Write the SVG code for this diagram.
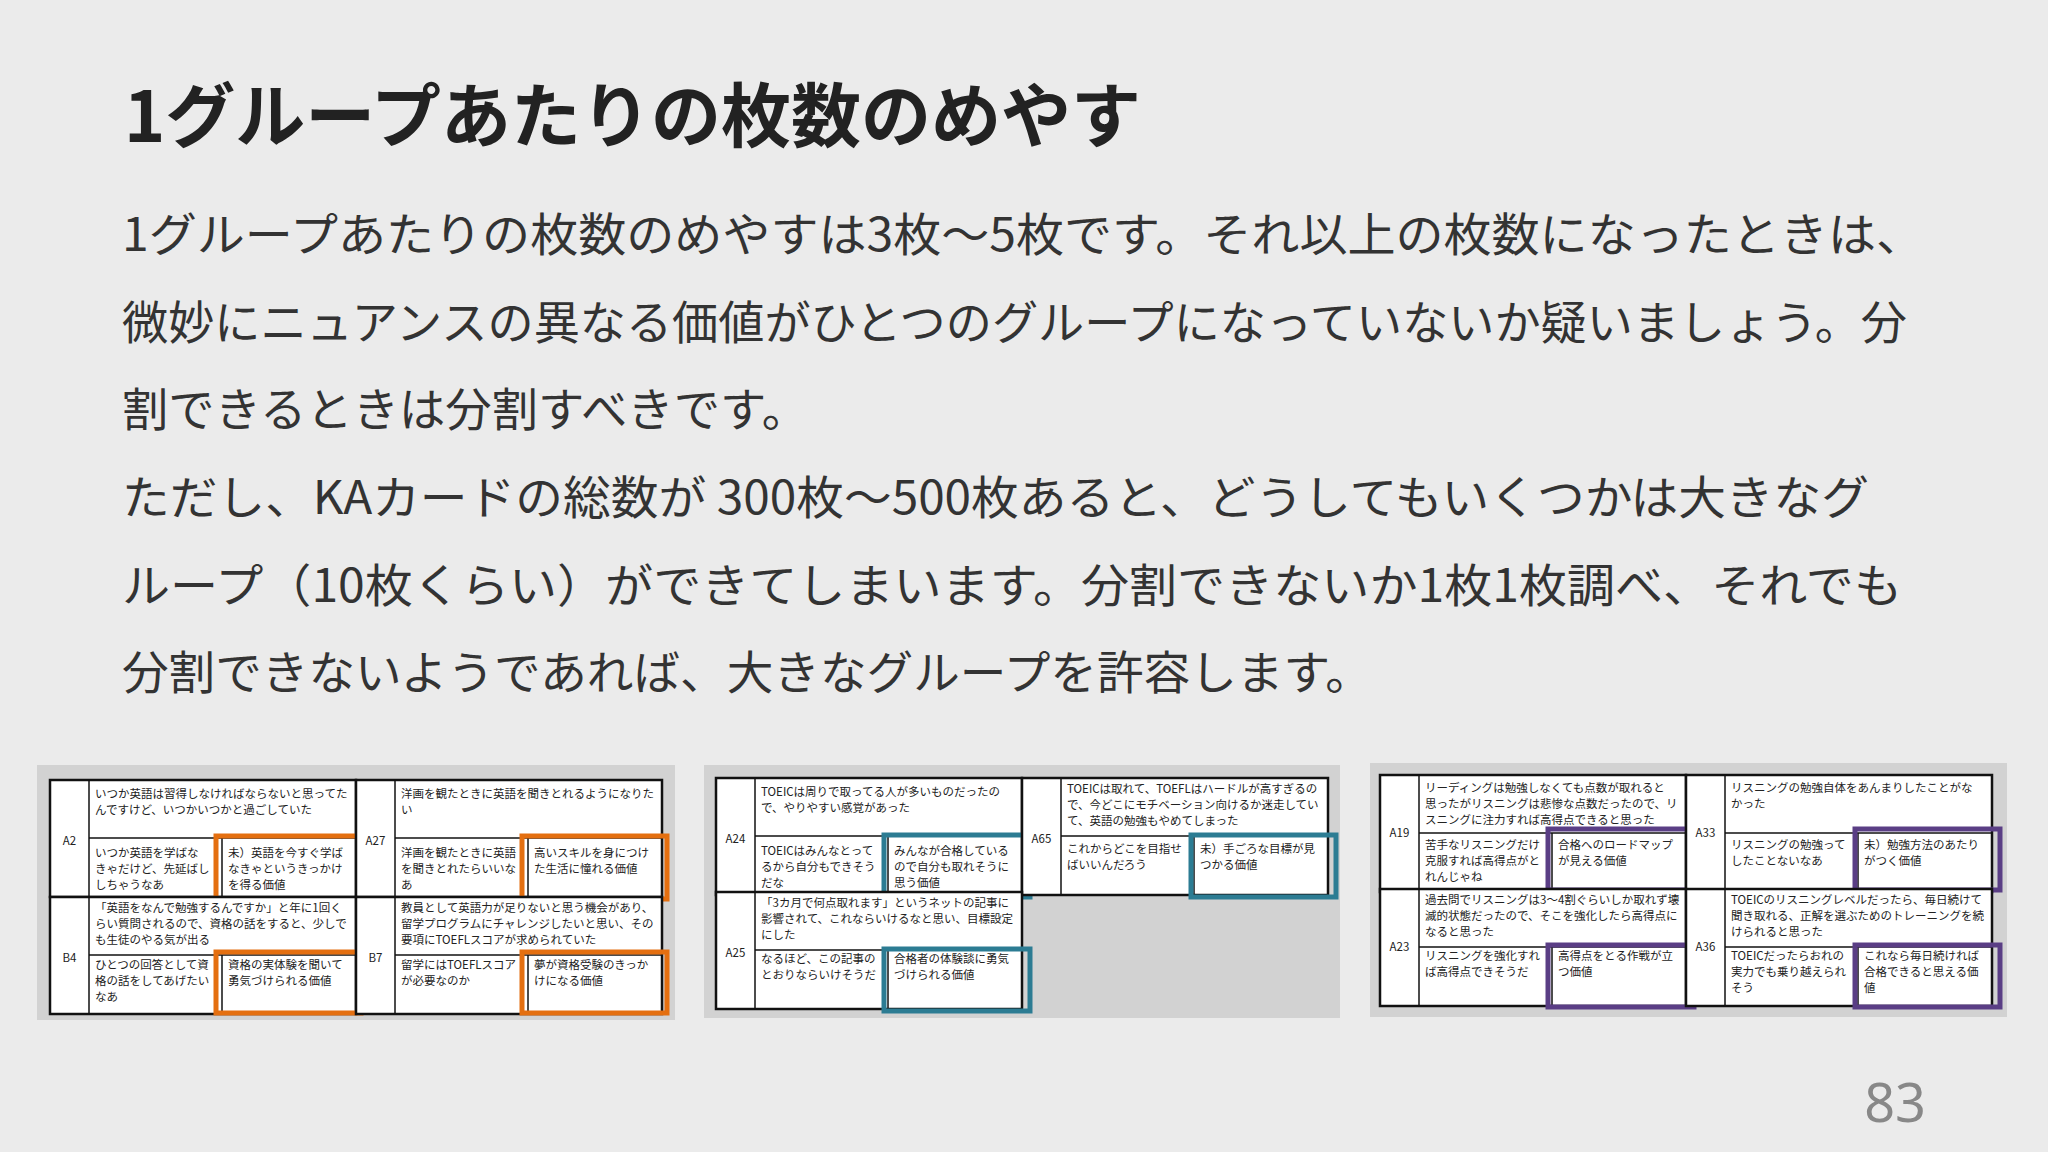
<svg xmlns="http://www.w3.org/2000/svg" width="2048" height="1152" viewBox="0 0 2048 1152">
<style>
text{font-family:"Noto Sans CJK JP","Noto Sans",sans-serif;fill:#333}
.t{font-size:70px;font-weight:bold;fill:#222}
.b{font-size:46px}
.s{font-size:11.5px;fill:#222}
.pn{font-size:54px;fill:#888;font-family:"Noto Sans",sans-serif}
.panel{fill:#d2d2d2}
.cell{fill:#fff;stroke:#111;stroke-width:2.5}
.ln{stroke:#111;stroke-width:1.5;fill:none}
.o{fill:none;stroke:#e46f10;stroke-width:5}
.g{fill:none;stroke:#2c7c93;stroke-width:5}
.p{fill:none;stroke:#5a3e85;stroke-width:5}
</style>
<defs>
<g id="frame">
<rect class="cell" x="0" y="0" width="306" height="117"/>
<line class="ln" x1="39" y1="0" x2="39" y2="117"/>
<line class="ln" x1="39" y1="58" x2="306" y2="58"/>
<line class="ln" x1="172" y1="58" x2="172" y2="117"/>
</g>
</defs>
<rect width="2048" height="1152" fill="#ebebeb"/>
<text class="t" x="124" y="142">1グループあたりの枚数のめやす</text>
<g id="body">
<text class="b" x="122" y="251" textLength="1802" lengthAdjust="spacingAndGlyphs">1グループあたりの枚数のめやすは3枚～5枚です。それ以上の枚数になったときは、</text>
<text class="b" x="122" y="339" textLength="1785" lengthAdjust="spacingAndGlyphs">微妙にニュアンスの異なる価値がひとつのグループになっていないか疑いましょう。分</text>
<text class="b" x="122" y="426" textLength="686" lengthAdjust="spacingAndGlyphs">割できるときは分割すべきです。</text>
<text class="b" x="122" y="514" textLength="1747" lengthAdjust="spacingAndGlyphs">ただし、KAカードの総数が 300枚～500枚あると、どうしてもいくつかは大きなグ</text>
<text class="b" x="122" y="602" textLength="1780" lengthAdjust="spacingAndGlyphs">ループ（10枚くらい）ができてしまいます。分割できないか1枚1枚調べ、それでも</text>
<text class="b" x="122" y="689" textLength="1250" lengthAdjust="spacingAndGlyphs">分割できないようであれば、大きなグループを許容します。</text>
</g>
<rect class="panel" x="37" y="765" width="638" height="255"/>
<rect class="panel" x="704" y="765" width="636" height="253"/>
<rect class="panel" x="1370" y="763" width="637" height="254"/>

<g id="A2" transform="translate(50,780)">
<use href="#frame"/>
<text class="s" x="19.5" y="65" text-anchor="middle">A2</text>
<text class="s" x="45" y="18">いつか英語は習得しなければならないと思ってた</text>
<text class="s" x="45" y="34">んですけど、いつかいつかと過ごしていた</text>
<text class="s" x="45" y="77">いつか英語を学ばな</text>
<text class="s" x="45" y="93">きゃだけど、先延ばし</text>
<text class="s" x="45" y="109">しちゃうなあ</text>
<text class="s" x="178" y="77">未）英語を今すぐ学ば</text>
<text class="s" x="178" y="93">なきゃというきっかけ</text>
<text class="s" x="178" y="109">を得る価値</text>
<rect class="o" x="166" y="56" width="145" height="63"/>
</g>
<g id="A27" transform="translate(356,780)">
<use href="#frame"/>
<text class="s" x="19.5" y="65" text-anchor="middle">A27</text>
<text class="s" x="45" y="18">洋画を観たときに英語を聞きとれるようになりた</text>
<text class="s" x="45" y="34">い</text>
<text class="s" x="45" y="77">洋画を観たときに英語</text>
<text class="s" x="45" y="93">を聞きとれたらいいな</text>
<text class="s" x="45" y="109">あ</text>
<text class="s" x="178" y="77">高いスキルを身につけ</text>
<text class="s" x="178" y="93">た生活に憧れる価値</text>
<rect class="o" x="166" y="56" width="145" height="63"/>
</g>
<g id="B4" transform="translate(50,897)">
<use href="#frame"/>
<text class="s" x="19.5" y="65" text-anchor="middle">B4</text>
<text class="s" x="45" y="15">「英語をなんで勉強するんですか」と年に1回く</text>
<text class="s" x="45" y="31">らい質問されるので、資格の話をすると、少しで</text>
<text class="s" x="45" y="47">も生徒のやる気が出る</text>
<text class="s" x="45" y="72">ひとつの回答として資</text>
<text class="s" x="45" y="88">格の話をしてあげたい</text>
<text class="s" x="45" y="104">なあ</text>
<text class="s" x="178" y="72">資格の実体験を聞いて</text>
<text class="s" x="178" y="88">勇気づけられる価値</text>
<rect class="o" x="166" y="55" width="145" height="61"/>
</g>
<g id="B7" transform="translate(356,897)">
<use href="#frame"/>
<text class="s" x="19.5" y="65" text-anchor="middle">B7</text>
<text class="s" x="45" y="15">教員として英語力が足りないと思う機会があり、</text>
<text class="s" x="45" y="31">留学プログラムにチャレンジしたいと思い、その</text>
<text class="s" x="45" y="47">要項にTOEFLスコアが求められていた</text>
<text class="s" x="45" y="72">留学にはTOEFLスコア</text>
<text class="s" x="45" y="88">が必要なのか</text>
<text class="s" x="178" y="72">夢が資格受験のきっか</text>
<text class="s" x="178" y="88">けになる価値</text>
<rect class="o" x="166" y="55" width="145" height="61"/>
</g>

<g id="A24" transform="translate(716,778)">
<use href="#frame"/>
<text class="s" x="19.5" y="65" text-anchor="middle">A24</text>
<text class="s" x="45" y="18">TOEICは周りで取ってる人が多いものだったの</text>
<text class="s" x="45" y="34">で、やりやすい感覚があった</text>
<text class="s" x="45" y="77">TOEICはみんなとって</text>
<text class="s" x="45" y="93">るから自分もできそう</text>
<text class="s" x="45" y="109">だな</text>
<text class="s" x="178" y="77">みんなが合格している</text>
<text class="s" x="178" y="93">ので自分も取れそうに</text>
<text class="s" x="178" y="109">思う価値</text>
<rect class="g" x="168" y="57" width="146" height="62"/>
</g>
<g id="A65" transform="translate(1022,778)">
<use href="#frame"/>
<text class="s" x="19.5" y="65" text-anchor="middle">A65</text>
<text class="s" x="45" y="15">TOEICは取れて、TOEFLはハードルが高すぎるの</text>
<text class="s" x="45" y="31">で、今どこにモチベーション向けるか迷走してい</text>
<text class="s" x="45" y="47">て、英語の勉強もやめてしまった</text>
<text class="s" x="45" y="75">これからどこを目指せ</text>
<text class="s" x="45" y="91">ばいいんだろう</text>
<text class="s" x="178" y="75">未）手ごろな目標が見</text>
<text class="s" x="178" y="91">つかる価値</text>
<rect class="g" x="169" y="57" width="145" height="62"/>
</g>
<g id="A25" transform="translate(716,892)">
<use href="#frame"/>
<text class="s" x="19.5" y="65" text-anchor="middle">A25</text>
<text class="s" x="45" y="15">「3カ月で何点取れます」というネットの記事に</text>
<text class="s" x="45" y="31">影響されて、これならいけるなと思い、目標設定</text>
<text class="s" x="45" y="47">にした</text>
<text class="s" x="45" y="71">なるほど、この記事の</text>
<text class="s" x="45" y="87">とおりならいけそうだ</text>
<text class="s" x="178" y="71">合格者の体験談に勇気</text>
<text class="s" x="178" y="87">づけられる価値</text>
<rect class="g" x="168" y="57" width="146" height="62"/>
</g>

<g id="A19" transform="translate(1380,775)">
<use href="#frame"/>
<text class="s" x="19.5" y="62" text-anchor="middle">A19</text>
<text class="s" x="45" y="17">リーディングは勉強しなくても点数が取れると</text>
<text class="s" x="45" y="33">思ったがリスニングは悲惨な点数だったので、リ</text>
<text class="s" x="45" y="49">スニングに注力すれば高得点できると思った</text>
<text class="s" x="45" y="74">苦手なリスニングだけ</text>
<text class="s" x="45" y="90">克服すれば高得点がと</text>
<text class="s" x="45" y="106">れんじゃね</text>
<text class="s" x="178" y="74">合格へのロードマップ</text>
<text class="s" x="178" y="90">が見える価値</text>
<rect class="p" x="168" y="54" width="146" height="61"/>
</g>
<g id="A33" transform="translate(1686,775)">
<use href="#frame"/>
<text class="s" x="19.5" y="62" text-anchor="middle">A33</text>
<text class="s" x="45" y="17">リスニングの勉強自体をあんまりしたことがな</text>
<text class="s" x="45" y="33">かった</text>
<text class="s" x="45" y="74">リスニングの勉強って</text>
<text class="s" x="45" y="90">したことないなあ</text>
<text class="s" x="178" y="74">未）勉強方法のあたり</text>
<text class="s" x="178" y="90">がつく価値</text>
<rect class="p" x="169" y="54" width="145" height="61"/>
</g>
<g id="A23" transform="translate(1380,889)">
<use href="#frame"/>
<text class="s" x="19.5" y="62" text-anchor="middle">A23</text>
<text class="s" x="45" y="15">過去問でリスニングは3～4割ぐらいしか取れず壊</text>
<text class="s" x="45" y="31">滅的状態だったので、そこを強化したら高得点に</text>
<text class="s" x="45" y="47">なると思った</text>
<text class="s" x="45" y="71">リスニングを強化すれ</text>
<text class="s" x="45" y="87">ば高得点できそうだ</text>
<text class="s" x="178" y="71">高得点をとる作戦が立</text>
<text class="s" x="178" y="87">つ価値</text>
<rect class="p" x="168" y="56" width="146" height="62"/>
</g>
<g id="A36" transform="translate(1686,889)">
<use href="#frame"/>
<text class="s" x="19.5" y="62" text-anchor="middle">A36</text>
<text class="s" x="45" y="15">TOEICのリスニングレベルだったら、毎日続けて</text>
<text class="s" x="45" y="31">聞き取れる、正解を選ぶためのトレーニングを続</text>
<text class="s" x="45" y="47">けられると思った</text>
<text class="s" x="45" y="71">TOEICだったらおれの</text>
<text class="s" x="45" y="87">実力でも乗り越えられ</text>
<text class="s" x="45" y="103">そう</text>
<text class="s" x="178" y="71">これなら毎日続ければ</text>
<text class="s" x="178" y="87">合格できると思える価</text>
<text class="s" x="178" y="103">値</text>
<rect class="p" x="169" y="56" width="145" height="62"/>
</g>
<g id="connectors"/>
<text class="pn" x="1926" y="1122" text-anchor="end">83</text>
</svg>
